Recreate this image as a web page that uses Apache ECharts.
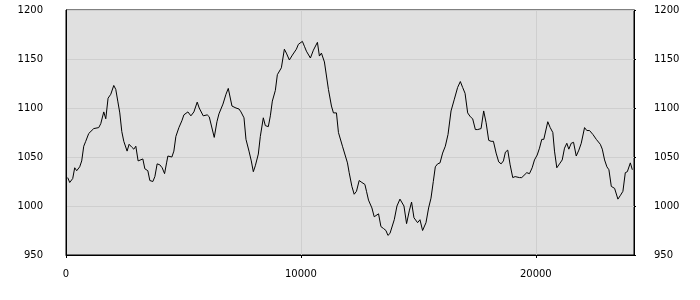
<!DOCTYPE html>
<html>
<head>
<meta charset="utf-8">
<script src="https://cdn.jsdelivr.net/npm/echarts@6/dist/echarts.min.js"></script>
<style>
html,body{margin:0;padding:0;background:#fff;}
#chart{width:700px;height:300px;}
</style>
</head>
<body>
<div id="chart"></div>
<script>
var xValues = [72,158,286,371,456,584,669,755,840,968,1053,1181,1266,1394,1480,1608,1693,1791,1906,2034,2119,2204,2290,2375,2460,2601,2686,2801,2887,2972,3070,3155,3271,3356,3484,3569,3697,3783,3880,3995,4094,4196,4281,4337,4422,4507,4592,4678,4806,4933,5019,5104,5189,5317,5445,5586,5671,5842,6012,6098,6311,6426,6511,6682,6810,6908,6980,7065,7150,7236,7364,7449,7577,7662,7790,7888,7974,8059,8187,8272,8400,8485,8613,8699,8784,8912,8997,9168,9296,9381,9509,9637,9807,9893,10063,10149,10234,10404,10532,10703,10788,10874,11001,11172,11300,11385,11513,11598,11769,11982,12055,12170,12268,12366,12481,12596,12724,12792,12878,13023,13121,13194,13305,13407,13518,13620,13705,13791,13876,13974,14089,14217,14302,14387,14498,14613,14711,14813,14967,15069,15180,15325,15436,15538,15636,15722,15820,15922,16033,16148,16263,16391,16532,16672,16787,16885,16988,17099,17214,17312,17427,17525,17670,17781,17884,17995,18097,18195,18310,18421,18523,18621,18706,18805,18907,19018,19120,19205,19303,19401,19474,19615,19730,19845,19943,20058,20156,20254,20340,20510,20613,20724,20796,20894,21009,21124,21222,21320,21405,21508,21606,21721,21832,21934,22075,22173,22288,22430,22575,22745,22830,22928,23026,23112,23214,23283,23354,23495,23606,23708,23810,23896,24024,24109];
var yValues = [1029,1024,1028,1039,1036,1040,1046,1061,1066,1074,1072,1079,1080,1080,1084,1096,1089,1110,1114,1123,1119,1107,1095,1076,1066,1056,1063,1060,1058,1061,1046,1047,1048,1038,1036,1026,1025,1030,1043,1042,1039,1033,1044,1051,1052,1050,1056,1071,1080,1087,1093,1092,1096,1092,1096,1106,1100,1092,1093,1091,1070,1086,1094,1104,1114,1120,1118,1102,1102,1100,1099,1096,1090,1068,1056,1046,1035,1041,1053,1071,1090,1082,1081,1092,1107,1118,1134,1141,1160,1156,1149,1154,1160,1165,1168,1163,1158,1151,1159,1167,1153,1156,1147,1119,1102,1095,1095,1075,1061,1044,1034,1020,1012,1015,1026,1024,1022,1015,1006,998,989,988,992,979,977,975,970,972,971,986,1000,1007,1005,1000,982,995,1004,988,983,986,975,983,998,1008,1025,1040,1043,1044,1054,1061,1073,1097,1109,1121,1127,1121,1115,1095,1091,1089,1078,1078,1079,1097,1085,1067,1066,1066,1054,1045,1043,1046,1055,1057,1042,1029,1030,1032,1029,1029,1029,1034,1033,1039,1047,1052,1059,1068,1068,1086,1080,1075,1056,1039,1043,1047,1059,1064,1058,1064,1065,1051,1057,1064,1080,1077,1077,1073,1068,1063,1058,1047,1040,1037,1020,1019,1018,1007,1011,1015,1034,1035,1044,1037];
var xTicks = [0, 10000, 20000];
var yTicks = [950, 1000, 1050, 1100, 1150, 1200];

var points = xValues.map(function (x, i) { return [x, yValues[i]]; });
var font = { fontFamily: 'DejaVu Sans', fontSize: 10, color: '#000' };

var chart = echarts.init(document.getElementById('chart'), null, { renderer: 'canvas' });
chart.setOption({
  animation: false,
  backgroundColor: '#ffffff',
  grid: {
    left: 66, right: 66, top: 10, bottom: 45,
    show: true, backgroundColor: '#e0e0e0', borderColor: '#000', borderWidth: 1
  },
  xAxis: {
    type: 'value', min: 0, max: 24180, interval: 10000,
    axisLine: { show: true, onZero: false, lineStyle: { color: '#000', width: 1 } },
    axisTick: { show: true, length: 3, lineStyle: { color: '#000' }, customValues: xTicks },
    axisLabel: Object.assign({ margin: 14, customValues: xTicks, formatter: function (v) { return String(v); } }, font),
    splitLine: { show: true, lineStyle: { color: '#cfcfcf', width: 1 } }
  },
  yAxis: [
    {
      type: 'value', position: 'left', min: 950, max: 1200, interval: 50,
      axisLine: { show: true, lineStyle: { color: '#000' } },
      axisTick: { show: false },
      axisLabel: Object.assign({ margin: 23, customValues: yTicks, formatter: function (v) { return String(v); } }, font),
      splitLine: { show: true, lineStyle: { color: '#cfcfcf', width: 1 } }
    },
    {
      type: 'value', position: 'right', min: 950, max: 1200, interval: 50,
      axisLine: { show: true, lineStyle: { color: '#000' } },
      axisTick: { show: true, length: 2, lineStyle: { color: '#000' } },
      axisLabel: Object.assign({ margin: 20, customValues: yTicks, formatter: function (v) { return String(v); } }, font),
      splitLine: { show: false }
    }
  ],
  series: [{
    type: 'line',
    data: points,
    showSymbol: false,
    symbol: 'none',
    smooth: false,
    lineStyle: { color: '#000', width: 1 },
    yAxisIndex: 0
  }]
});
</script>
</body>
</html>
